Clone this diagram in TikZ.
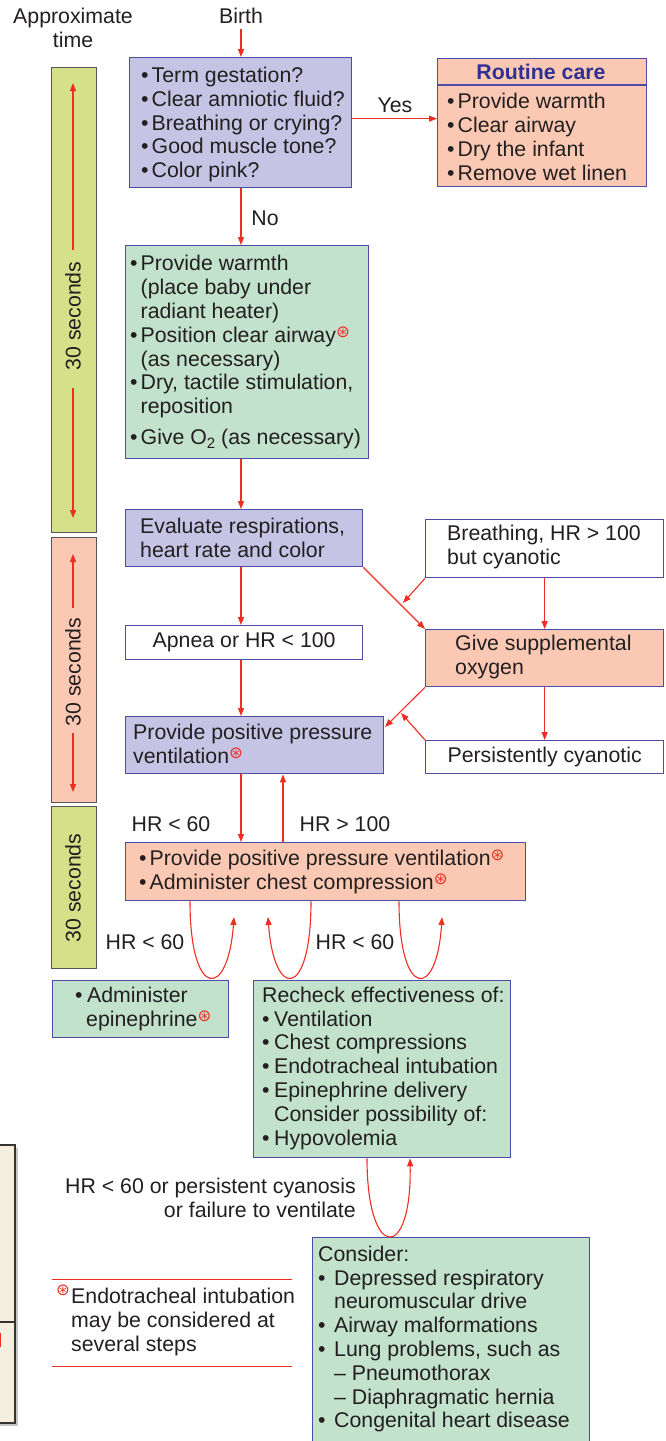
\documentclass[tikz,border=0pt]{standalone}
\usepackage{fontspec}
\setmainfont{Liberation Sans}
\newfontfamily\djv{DejaVu Sans}
\usetikzlibrary{arrows.meta,calc}
\definecolor{lav}{HTML}{C6C4E4}
\definecolor{grn}{HTML}{C2E2CC}
\definecolor{sal}{HTML}{FBC9B3}
\definecolor{barg}{HTML}{D5E189}
\definecolor{bord}{HTML}{4C4CA6}
\definecolor{asred}{HTML}{EE2E24}
\definecolor{txt}{HTML}{231F20}
\definecolor{ttl}{HTML}{2E3192}
\definecolor{bgray}{HTML}{555555}
\definecolor{beige}{HTML}{F5EFE0}
\newcommand\fsz{\fontsize{21.3}{23.8}\selectfont}
\newcommand\mybul[1][10.5pt]{\makebox[#1][l]{•}}
\newcommand\myind[1][10.5pt]{\hspace*{#1}}
\newcommand\etm{\raisebox{5pt}{\djv\fontsize{16.5}{16.5}\selectfont\textcolor{asred}{⊛}}}
\begin{document}
\begin{tikzpicture}[x=1pt,y=-1pt,
  every node/.style={text=txt, font=\fsz, inner sep=0pt},
  box/.style={draw=bord, line width=1.3pt, anchor=north west},
  tbar/.style={draw=bgray, line width=1.3pt, anchor=north west, minimum width=45pt},
  arr/.style={draw=asred, line width=1.1pt, -{Triangle[length=8pt,width=6pt]}},
  txtl/.style={anchor=west, align=left},
]
\fill[white] (0,0) rectangle (666,1441);
\useasboundingbox (0,0) rectangle (666,1441);

% fragment of a neighbouring panel at left edge
\fill[gray!45] (-10,1148) rectangle (17.5,1426);
\draw[fill=beige, draw=black!80, line width=1.5pt] (-10,1145) rectangle (15,1423);
\draw[black!80, line width=1.5pt] (-10,1322) -- (15,1322);
\fill[asred] (-2,1333) rectangle (1.2,1347);

% headers
\node (birth) at (241,16) {Birth};
\node[align=center] (approx) at (73,28) {Approximate\\time};

% time bars
\node[tbar, fill=barg, minimum height=465pt] (t1) at (51,67) {};
\node[tbar, fill=sal, minimum height=265pt] (t2) at (51,537) {};
\node[tbar, fill=barg, minimum height=162pt] (t3) at (51,806) {};
\node[rotate=90] (t1t) at (73,316) {30 seconds};
\node[rotate=90] (t2t) at (73,672) {30 seconds};
\node[rotate=90] (t3t) at (73,888) {30 seconds};
\draw[arr] (73,250) -- (73,83);
\draw[arr] (73,388) -- (73,518);
\draw[arr] (73,608) -- (73,554);
\draw[arr] (73,733) -- (73,792);

% box 1
\node[box, fill=lav, minimum width=222pt, minimum height=130pt] (b1) at (129,57) {};
\node[txtl] (b1t) at ($(b1.west)+(12,2)$) {\mybul Term gestation?\\\mybul Clear amniotic fluid?\\\mybul Breathing or crying?\\\mybul Good muscle tone?\\\mybul Color pink?};

% routine care
\node[box, fill=sal, minimum width=209pt, minimum height=128pt] (rc) at (437,58) {};
\draw[bord, line width=1.3pt] ([yshift=-27pt]rc.north west) -- ([yshift=-27pt]rc.north east);
\node[text=ttl, font=\fsz\bfseries] (rct) at (541,72) {Routine care};
\node[txtl] (rci) at (447,137) {\mybul Provide warmth\\\mybul Clear airway\\\mybul Dry the infant\\\mybul Remove wet linen};

% box 2
\node[box, fill=grn, minimum width=243pt, minimum height=213pt] (b2) at (125,245) {};
\node[txtl] (b2t) at ($(b2.west)+(5,0)$) {\mybul Provide warmth\\\myind(place baby under\\\myind radiant heater)\\\mybul Position clear airway\etm\\\myind(as necessary)\\\mybul Dry, tactile stimulation,\\\myind reposition\\[7pt]\mybul Give O\raisebox{-4pt}{\fontsize{15}{15}\selectfont 2} (as necessary)};

% evaluate
\node[box, fill=lav, minimum width=237pt, minimum height=57pt] (ev) at (125,509) {};
\node[txtl] (evt) at ($(ev.west)+(15,0)$) {Evaluate respirations,\\heart rate and color};

% breathing but cyanotic
\node[box, fill=white, minimum width=238pt, minimum height=58pt] (br) at (425,519) {};
\node[txtl] (brt) at ($(br.west)+(22,-2)$) {Breathing, HR > 100\\but cyanotic};

% apnea
\node[box, fill=white, minimum width=237pt, minimum height=34pt] (ap) at (125,625) {Apnea or HR < 100};

% give supplemental oxygen
\node[box, fill=sal, minimum width=238pt, minimum height=57pt] (gs) at (425,629) {};
\node[txtl] (gst) at ($(gs.west)+(30,-1)$) {Give supplemental\\oxygen};

% PPV
\node[box, fill=lav, minimum width=258pt, minimum height=57pt] (ppv) at (125,716) {};
\node[txtl] (ppvt) at ($(ppv.west)+(8,-1)$) {Provide positive pressure\\ventilation\etm};

% persistently cyanotic
\node[box, fill=white, minimum width=238pt, minimum height=33pt] (pc) at (425,740) {Persistently cyanotic};

% chest compression
\node[box, fill=sal, minimum width=400pt, minimum height=58pt] (ch) at (125,842) {};
\node[txtl] (cht) at ($(ch.west)+(14,0)$) {\mybul Provide positive pressure ventilation\etm\\\mybul Administer chest compression\etm};

% epinephrine
\node[box, fill=grn, minimum width=176pt, minimum height=57pt] (ep) at (52,980) {};
\node[txtl] (ept) at ($(ep.west)+(23,0)$) {\mybul[12pt]Administer\\\myind[11pt]epinephrine\etm};

% recheck
\node[box, fill=grn, minimum width=257pt, minimum height=177pt] (rk) at (253,980) {};
\node[txtl] (rkt) at ($(rk.west)+(9,-1)$) {Recheck effectiveness of:\\\mybul[12pt]Ventilation\\\mybul[12pt]Chest compressions\\\mybul[12pt]Endotracheal intubation\\\mybul[12pt]Epinephrine delivery\\\myind[12pt]Consider possibility of:\\\mybul[12pt]Hypovolemia};

% consider
\node[box, fill=grn, minimum width=277pt, minimum height=206pt] (cs) at (312,1237) {};
\node[txtl] (cst) at ($(cs.west)+(6,-1.5)$) {Consider:\\\mybul[16pt]Depressed respiratory\\\myind[16pt]neuromuscular drive\\\mybul[16pt]Airway malformations\\\mybul[16pt]Lung problems, such as\\\myind[16pt]– Pneumothorax\\\myind[16pt]– Diaphragmatic hernia\\\mybul[16pt]Congenital heart disease};

% labels
\node (yes) at (395,105) {Yes};
\node (no) at (265,218) {No};
\node (l60a) at (171,824) {HR < 60};
\node (l100) at (345,824) {HR > 100};
\node (l60b) at (145,942) {HR < 60};
\node (l60c) at (355,942) {HR < 60};
\node[align=right, anchor=east] (lfail) at (356,1198) {HR < 60 or persistent cyanosis\\or failure to ventilate};

% footnote
\draw[draw=asred, line width=1pt] (52,1279) -- (292,1279);
\draw[draw=asred, line width=1pt] (52,1366) -- (292,1366);
\node[font=\djv\fontsize{16.5}{16.5}\selectfont, text=asred] (fsym) at (63,1290) {⊛};
\node[txtl] (fnt) at (71,1322) {Endotracheal intubation\\may be considered at\\several steps};

% connectors
\draw[arr] ([yshift=-5pt]birth.south) -- (b1.north -| birth);
\draw[arr] ([yshift=4pt]b1.east) -- ([yshift=4pt]rc.west);
\draw[arr] (b1.south -| birth) -- (b2.north -| birth);
\draw[arr] (b2.south -| birth) -- (ev.north -| birth);
\draw[arr] (ev.south -| birth) -- (ap.north -| birth);
\draw[arr] (ap.south -| birth) -- (ppv.north -| birth);
\draw[arr] (ev.south east) -- (gs.north west);
\coordinate (m1) at (403,603);
\draw[arr] (br.south west) -- (m1);
\draw[arr] (br.south) -- (gs.north);
\coordinate (m2) at (385,727);
\draw[arr] (gs.south west) -- (m2);
\draw[arr] (gs.south) -- (pc.north);
\coordinate (m3) at (401,713);
\draw[arr] (pc.north west) -- (m3);
\draw[arr] (ppv.south -| birth) -- (ch.north -| birth);
\draw[arr] ([xshift=158pt]ch.north west) -- ([xshift=158pt]ppv.south west);

\coordinate (l1e) at (234,917);
\coordinate (l2e) at (268,917);
\coordinate (l3e) at (442,917);
\draw[arr] ([xshift=65pt]ch.south west) .. controls (190,1000) and (228,1000) .. (l1e);
\draw[arr] ([xshift=186pt]ch.south west) .. controls (311,1000) and (274,1000) .. (l2e);
\draw[arr] ([xshift=274pt]ch.south west) .. controls (399,1000) and (437,1000) .. (l3e);
\draw[arr] ([xshift=114pt]rk.south west) .. controls (367,1262) and (412,1262) .. ([xshift=157pt]rk.south west);
\end{tikzpicture}
\end{document}
